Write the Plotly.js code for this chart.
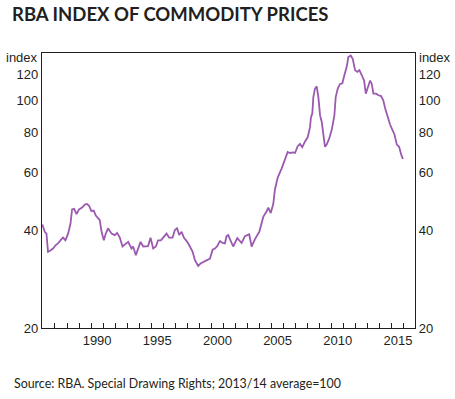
<!DOCTYPE html>
<html>
<head>
<meta charset="utf-8">
<script src="https://cdn.plot.ly/plotly-3.0.1.min.js"></script>
<style>html,body{margin:0;padding:0;background:#fff;}#chart{width:455px;height:399px;}</style>
</head>
<body>
<div id="chart"></div>
<script>
// Decimal years
const years = [1985.95,1986.15,1986.29,1986.42,1986.62,1986.84,1987.04,1987.25,1987.54,1987.67,1987.87,
1988.09,1988.29,1988.42,1988.59,1988.79,1989.00,1989.25,1989.48,1989.67,1989.83,1990.03,1990.22,1990.39,
1990.58,1990.72,1990.87,1991.06,1991.22,1991.41,1991.70,1991.97,1992.16,1992.39,1992.61,1992.89,1993.08,
1993.36,1993.49,1993.72,1993.91,1994.11,1994.33,1994.55,1994.74,1994.94,1995.16,1995.38,1995.57,1995.80,
1995.99,1996.27,1996.49,1996.77,1996.96,1997.15,1997.32,1997.52,1997.71,1997.99,1998.21,1998.44,1998.63,
1998.90,1999.10,1999.32,1999.60,1999.88,2000.10,2000.29,2000.48,2000.71,2000.93,2001.12,2001.26,2001.40,
2001.54,2001.81,2002.15,2002.51,2002.79,2003.14,2003.34,2003.62,2003.98,2004.31,2004.59,2004.73,2004.93,
2005.14,2005.28,2005.51,2005.84,2006.11,2006.34,2006.53,2006.76,2006.95,2007.17,2007.36,2007.55,2007.78,
2008.00,2008.19,2008.27,2008.39,2008.47,2008.61,2008.75,2008.89,2009.03,2009.17,2009.30,2009.44,2009.58,
2009.78,2010.00,2010.22,2010.33,2010.50,2010.69,2010.88,2011.05,2011.25,2011.38,2011.58,2011.75,2011.94,
2012.13,2012.30,2012.50,2012.69,2012.83,2013.00,2013.19,2013.33,2013.46,2013.69,2013.88,2014.10,2014.29,
2014.43,2014.66,2014.85,2015.04,2015.21,2015.41,2015.60,2015.77,2015.91];
const index = [41.6,39.5,39.0,34.3,34.6,35.1,35.9,36.4,37.5,37.9,37.2,
39.0,41.9,46.3,46.5,44.8,46.3,46.9,47.9,48.1,47.5,45.7,45.9,44.3,
43.5,42.9,39.5,37.2,39.0,40.5,39.0,38.6,39.2,37.9,35.6,36.4,36.8,
35.1,35.6,33.5,35.1,36.8,35.6,35.6,35.7,37.9,35.1,35.6,37.2,37.2,
37.9,39.0,37.9,37.9,40.0,40.5,38.6,39.5,37.9,36.8,35.6,34.3,32.3,
31.0,31.6,31.9,32.4,32.7,34.8,35.1,35.7,37.0,36.5,36.4,38.3,38.6,
37.5,35.6,37.8,36.5,38.3,38.8,35.6,37.5,39.5,43.9,45.7,46.9,45.1,
48.1,53.3,58.0,61.9,65.7,69.5,69.0,69.3,69.0,72.4,73.6,71.9,74.9,
77.1,82.7,88.6,91.5,102.5,108.8,110.6,102.5,90.0,85.9,78.8,72.1,73.2,
76.2,81.3,90.0,102.5,108.8,112.5,113.0,119.6,127.2,136.0,137.6,134.2,124.0,
122.5,124.0,119.6,115.2,105.0,109.8,115.2,112.5,105.0,105.0,103.8,103.2,100.0,
94.9,88.6,84.4,81.3,78.8,73.2,72.1,68.3,66.1];

const yTicks = [20, 40, 60, 80, 100, 120];
const yearTicks = [];
for (let y = 1986; y <= 2016; y++) yearTicks.push(y);
const labelYears = [1990, 1995, 2000, 2005, 2010, 2015];
const REF_LEVEL = 100;
const X_RANGE = [1985.92, 2016.92];
const Y_RANGE = [Math.log10(20), Math.log10(140)];

const txt = '#231f20';
const tickFont = {family: 'Liberation Sans, Arial, sans-serif', size: 13, color: txt};

const traces = [{
  x: years, y: index, type: 'scatter', mode: 'lines',
  line: {color: '#9b59b0', width: 1.8},
  xaxis: 'x', yaxis: 'y', hoverinfo: 'skip'
}];

const layout = {
  width: 455, height: 399,
  margin: {l: 42, r: 40, t: 53, b: 71},
  paper_bgcolor: '#fff', plot_bgcolor: '#fff',
  showlegend: false,
  title: {
    text: 'RBA INDEX OF COMMODITY PRICES',
    font: {family: 'Lato, sans-serif', size: 18.5, color: txt, weight: 700},
    xref: 'container', yref: 'container', x: 12/455, xanchor: 'left', y: 1 - 15/399, yanchor: 'middle'
  },
  xaxis: {
    range: X_RANGE, showgrid: false, zeroline: false,
    showline: true, linecolor: txt, linewidth: 1.2, mirror: true,
    tickmode: 'array', tickvals: labelYears.map(v => v + 0.5), ticktext: labelYears.map(String),
    ticks: '', tickfont: tickFont, fixedrange: true
  },
  xaxis2: {
    range: X_RANGE, overlaying: 'x', anchor: 'y', side: 'bottom',
    showgrid: false, zeroline: false, showline: false,
    tickmode: 'array', tickvals: yearTicks, ticks: 'inside', ticklen: 5, tickwidth: 1, tickcolor: txt,
    showticklabels: false
  },
  yaxis: {
    type: 'log', range: Y_RANGE, showgrid: false, zeroline: false,
    showline: true, linecolor: txt, linewidth: 1.2,
    tickmode: 'array', tickvals: yTicks, ticktext: yTicks.map(String),
    ticks: '', tickfont: tickFont
  },
  yaxis2: {
    type: 'log', range: Y_RANGE, overlaying: 'y', side: 'right', anchor: 'x',
    showgrid: false, zeroline: false,
    showline: true, linecolor: txt, linewidth: 1.2,
    tickmode: 'array', tickvals: yTicks, ticktext: yTicks.map(String),
    ticks: '', tickfont: tickFont
  },
  shapes: [{
    type: 'line', xref: 'paper', x0: 0, x1: 1, yref: 'y', y0: Math.log10(REF_LEVEL), y1: Math.log10(REF_LEVEL),
    line: {color: txt, width: 1.2}, layer: 'below'
  }],
  annotations: [
    {text: 'index', xref: 'paper', yref: 'paper', x: 0, y: 0.985, xanchor: 'right', yanchor: 'middle',
     xshift: -2, showarrow: false, font: tickFont},
    {text: 'index', xref: 'paper', yref: 'paper', x: 1, y: 0.985, xanchor: 'left', yanchor: 'middle',
     xshift: 2, showarrow: false, font: tickFont},
    {text: 'Source: RBA. Special Drawing Rights; 2013/14 average=100', xref: 'paper', yref: 'paper',
     x: (12 - 42) / 373, y: (328 - 383) / 275, xanchor: 'left', yanchor: 'middle', showarrow: false,
     font: {family: 'Lato, sans-serif', size: 12.4, color: txt}}
  ]
};

// dummy trace to activate xaxis2 & yaxis2
traces.push({x: [X_RANGE[0]], y: [null], xaxis: 'x2', yaxis: 'y2', type: 'scatter', mode: 'lines', hoverinfo: 'skip', showlegend: false});

Plotly.newPlot('chart', traces, layout, {staticPlot: true, displayModeBar: false});
</script>
</body>
</html>
